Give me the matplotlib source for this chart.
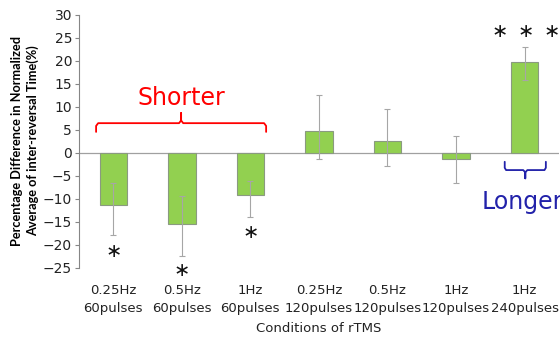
import numpy as np
import matplotlib
matplotlib.use('Agg')
import matplotlib.pyplot as plt

# rTMS conditions and mean change in normalized inter-reversal time
freqs = ['0.25Hz', '0.5Hz', '1Hz', '0.25Hz', '0.5Hz', '1Hz', '1Hz']
pulses = ['60pulses', '60pulses', '60pulses', '120pulses', '120pulses', '120pulses', '240pulses']
means = [-11.3, -15.5, -9.3, 4.7, 2.5, -1.5, 19.7]
err_minus = [6.7, 6.9, 4.8, 6.0, 5.4, 5.2, 3.9]
err_plus = [4.6, 6.0, 3.2, 7.9, 6.9, 5.1, 3.3]
yticks = [-25, -20, -15, -10, -5, 0, 5, 10, 15, 20, 25, 30]

# significance marks
stars_x = [0, 1, 2, 5.64, 6.01, 6.39]
stars_y = [-21.5, -25.6, -17.3, 26.3, 26.3, 26.3]

fig = plt.figure(figsize=(5.6, 3.4), dpi=100)
ax = fig.add_axes([0.141, 0.213, 0.857, 0.744])

x = np.arange(len(means))
labels = [f + '\n' + p for f, p in zip(freqs, pulses)]

ax.bar(x, means, width=0.4, color='#92d050', edgecolor='#8a9a80', linewidth=0.8, zorder=2)
ax.errorbar(x, means, yerr=[err_minus, err_plus], fmt='none', ecolor='#a6a6a6',
            elinewidth=0.8, capsize=2, capthick=0.8, zorder=3)
ax.axhline(0, color='#a0a0a0', linewidth=0.9, zorder=1)

ax.set_xlim(-0.5, 6.5)
ax.set_ylim(-25, 30)
ax.set_yticks(yticks)
ax.set_xticks(x)
ax.set_xticklabels(labels, fontsize=9.5, linespacing=1.45, color='#222222')
ax.tick_params(axis='x', length=0, pad=12)
ax.tick_params(axis='y', labelsize=10, labelcolor='#222222', length=3, color='#868686', pad=2)
for s in ['top', 'right', 'bottom']:
    ax.spines[s].set_visible(False)
ax.spines['left'].set_color('#868686')
ax.spines['left'].set_linewidth(0.8)

ax.set_xlabel('Conditions of rTMS', fontsize=9.5, labelpad=5, color='#222222')
ax.set_ylabel('Percentage Difference in Normalized\nAverage of inter-reversal Time(%)',
              fontsize=9.2, fontweight='bold', family='Lato', linespacing=1.25, labelpad=3)

for sx, sy in zip(stars_x, stars_y):
    ax.text(sx, sy, '\u2217', fontsize=14, ha='center', va='center', color='#111111', clip_on=False)

# brace over the shorter group
bx = [-0.25, -0.25, -0.22, 0.96, 0.99, 0.99, 0.99, 1.02, 2.2, 2.23, 2.23]
by = [4.5, 5.8, 6.4, 6.4, 7.0, 8.6, 7.0, 6.4, 6.4, 5.8, 4.5]
ax.plot(bx, by, color='#ff0000', linewidth=1.3, clip_on=False, solid_capstyle='round')
ax.text(0.99, 11.8, 'Shorter', fontsize=17, color='#ff0000', ha='center', va='center')

# brace under the longer bar
lx = [5.71, 5.71, 5.73, 5.98, 6.01, 6.01, 6.01, 6.04, 6.29, 6.31, 6.31]
ly = [-2.0, -3.3, -3.8, -3.8, -4.3, -5.6, -4.3, -3.8, -3.8, -3.3, -2.0]
ax.plot(lx, ly, color='#2222aa', linewidth=1.3, clip_on=False, solid_capstyle='round')
ax.text(5.97, -10.7, 'Longer', fontsize=17, color='#2222aa', ha='center', va='center', clip_on=False)

fig.savefig('out.png', dpi=100)
